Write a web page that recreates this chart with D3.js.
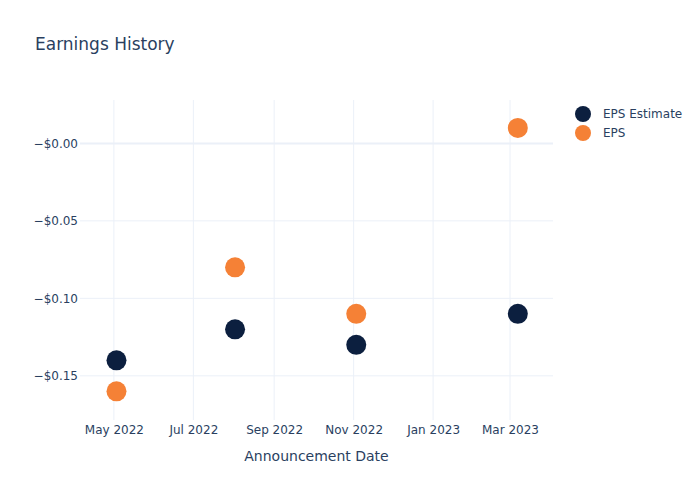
<!DOCTYPE html>
<html><head><meta charset="utf-8">
<script src="https://cdn.jsdelivr.net/npm/d3@7"></script>
<style>body{margin:0;background:#fff}svg{display:block}text{font-family:"DejaVu Sans",Verdana,sans-serif;fill:#2a3f5f}</style>
</head><body>
<script>
const dates = ["2022-05-03","2022-08-02","2022-11-03","2023-03-07"];
const epsEstimate = [-0.14, -0.12, -0.13, -0.11];
const eps = [-0.16, -0.08, -0.11, 0.01];
const yTicks = [0, -0.05, -0.10, -0.15];
const yTickLabels = ["\u2212$0.00","\u2212$0.05","\u2212$0.10","\u2212$0.15"];
const xTicks = ["2022-05-01","2022-07-01","2022-09-01","2022-11-01","2023-01-01","2023-03-01"];
const seriesNames = ["EPS Estimate","EPS"];
const colors = ["#0c1f3f","#f58136"];

const W=700,H=500, L=80, R=553, T=100, B=420;
const parse = d3.utcParse("%Y-%m-%d");
const svg = d3.select("body").append("svg").attr("width",W).attr("height",H);
const x = d3.scaleUtc().domain([parse("2022-04-05"), parse("2023-04-03")]).range([L,R]);
const y = d3.scaleLinear().domain([-0.1785, 0.028]).range([B,T]);

// grid
svg.append("g").selectAll("line").data(xTicks.map(parse)).join("line")
  .attr("x1",d=>x(d)).attr("x2",d=>x(d)).attr("y1",T).attr("y2",B)
  .attr("stroke","#ebf0f8").attr("stroke-width",1);
svg.append("g").selectAll("line").data(yTicks).join("line")
  .attr("x1",L).attr("x2",R).attr("y1",d=>y(d)).attr("y2",d=>y(d))
  .attr("stroke","#ebf0f8").attr("stroke-width",d=>d===0?2:1);

const xAxis = d3.axisBottom(x).tickValues(xTicks.map(parse)).tickFormat(d3.utcFormat("%b %Y")).tickSize(0).tickPadding(5);
const gx = svg.append("g").attr("transform",`translate(0,${B})`).call(xAxis);
gx.select(".domain").remove();
gx.selectAll("text").attr("font-size",12).style("fill","#2a3f5f").attr("font-family","DejaVu Sans");
const yAxis = d3.axisLeft(y).tickValues(yTicks).tickFormat((d,i)=>yTickLabels[i]).tickSize(0).tickPadding(2);
const gy = svg.append("g").attr("transform",`translate(${L},0)`).call(yAxis);
gy.select(".domain").remove();
gy.selectAll("text").attr("font-size",12).style("fill","#2a3f5f").attr("font-family","DejaVu Sans");

// points
[epsEstimate, eps].forEach((vals,si)=>{
  svg.append("g").selectAll("circle").data(vals).join("circle")
    .attr("cx",(d,i)=>x(parse(dates[i]))).attr("cy",d=>y(d)).attr("r",10)
    .attr("fill",colors[si]);
});

// titles
svg.append("text").attr("x",35).attr("y",50).attr("font-size",17).text("Earnings History");
svg.append("text").attr("x",(L+R)/2).attr("y",461).attr("text-anchor","middle").attr("font-size",14).text("Announcement Date");

// legend
const lg = svg.append("g");
seriesNames.forEach((n,i)=>{
  lg.append("circle").attr("cx",583).attr("cy",114+i*19).attr("r",8).attr("fill",colors[i]);
  lg.append("text").attr("x",603).attr("y",118+i*19).attr("font-size",12).text(n);
});
</script>
</body></html>
